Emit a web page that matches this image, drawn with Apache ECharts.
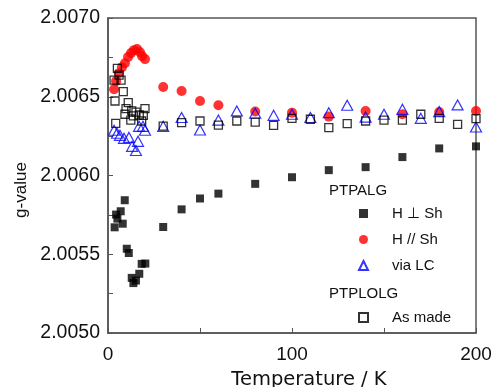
<!DOCTYPE html>
<html>
<head>
<meta charset="utf-8">
<script src="https://cdn.jsdelivr.net/npm/echarts@6/dist/echarts.min.js"></script>
<style>html,body{margin:0;padding:0;background:#fff}#c{width:494px;height:387px}</style>
</head>
<body>
<div id="c"></div>
<script>
// H ⊥ Sh (PTPALG)
const perpT = [3.6,4.4,5.1,6.9,8.0,9.1,10.2,11.3,12.9,13.8,15.2,17.0,18.3,20.3,30,40,50,60,80,100,120,140,160,180,200];
const perpG = [2.005671,2.005752,2.005726,2.005773,2.005694,2.005843,2.005535,2.005508,2.005350,2.005317,2.005333,2.005376,2.005439,2.005441,2.005673,2.005785,2.005854,2.005885,2.005947,2.005989,2.006034,2.006053,2.006117,2.006172,2.006185];
// H // Sh (PTPALG)
const parT = [3.3,4.4,6.0,7.6,9.2,10.9,12.5,14.1,15.8,17.4,18.5,20.1,30,40,50,60,80,100,120,140,160,180,200];
const parG = [2.006548,2.006599,2.006650,2.006688,2.006713,2.006752,2.006777,2.006796,2.006803,2.006783,2.006758,2.006739,2.006562,2.006537,2.006473,2.006446,2.006406,2.006399,2.006374,2.006410,2.006389,2.006403,2.006410];
// via LC (PTPALG)
const lcT = [3.3,4.9,6.5,8.7,11.4,13.1,15.2,16.3,16.9,19.0,20.1,30,40,50,60,70,80,90,100,110,120,130,140,150,160,170,180,190,200];
const lcG = [2.006287,2.006268,2.006255,2.006236,2.006242,2.006185,2.006159,2.006217,2.006312,2.006312,2.006287,2.006312,2.006368,2.006289,2.006352,2.006410,2.006395,2.006382,2.006389,2.006368,2.006399,2.006446,2.006371,2.006389,2.006420,2.006363,2.006406,2.006448,2.006308];
// As made (PTPLOLG)
const madeT = [3.3,5.1,6.0,7.1,8.3,3.8,4.2,11.0,9.8,9.2,12.4,12.9,15.2,13.8,17.0,18.3,20.1,19.2,30,40,50,60,70,80,90,100,110,120,130,140,150,160,170,180,190,200];
const madeG = [2.006605,2.006680,2.006637,2.006605,2.006533,2.006473,2.006331,2.006463,2.006425,2.006389,2.006352,2.006410,2.006403,2.006378,2.006384,2.006346,2.006425,2.006382,2.006314,2.006336,2.006346,2.006320,2.006346,2.006339,2.006318,2.006363,2.006357,2.006304,2.006329,2.006346,2.006352,2.006352,2.006389,2.006363,2.006325,2.006361];

const seriesNames = ['H ⊥ Sh', 'H // Sh', 'via LC', 'As made'];
const groupNames = ['PTPALG', 'PTPLOLG'];
const xTitle = 'Temperature / K';
const yTitle = 'g-value';

const zip = (a, b) => a.map((v, i) => [v, b[i]]);
const font = 'Liberation Sans, Arial, sans-serif';
const axisColor = '#555';

const legendCommon = {
  orient: 'vertical', left: 353, itemWidth: 9, itemHeight: 9, itemGap: 9, selectedMode: false,
  textStyle: { fontFamily: font, fontSize: 15, color: '#111', lineHeight: 17, padding: [0, 0, 0, 19] }
};

const chart = echarts.init(document.getElementById('c'));
chart.setOption({
  animation: false,
  backgroundColor: '#fff',
  grid: { left: 108, right: 18, top: 18, bottom: 54, outerBoundsMode: 'none', containLabel: false,
    show: true, borderColor: axisColor, borderWidth: 1.5, backgroundColor: 'transparent' },
  xAxis: {
    type: 'value', min: 0, max: 200, interval: 100,
    name: xTitle, nameLocation: 'middle', nameGap: 37,
    nameTextStyle: { fontFamily: 'DejaVu Sans, sans-serif', fontSize: 19.5, color: '#111', padding: [0, 0, 0, 34] },
    axisLine: { show: true, lineStyle: { color: axisColor, width: 1.5 } },
    axisTick: { show: true, inside: true, length: 5, lineStyle: { color: axisColor } },
    minorTick: { show: true, splitNumber: 2, length: 5, lineStyle: { color: axisColor } },
    splitLine: { show: false },
    axisLabel: { fontFamily: font, fontSize: 19, color: '#111', margin: 12 }
  },
  yAxis: {
    type: 'value', min: 2.005, max: 2.007, interval: 0.0005,
    name: yTitle, nameLocation: 'middle', nameGap: 78,
    nameTextStyle: { fontFamily: font, fontSize: 17, color: '#111', padding: [0, 29, 0, 0] },
    axisLine: { show: true, lineStyle: { color: axisColor, width: 1.5 } },
    axisTick: { show: true, inside: true, length: 5, lineStyle: { color: axisColor } },
    minorTick: { show: true, splitNumber: 2, length: 5, lineStyle: { color: axisColor } },
    splitLine: { show: false },
    axisLabel: { fontFamily: font, fontSize: 19.5, color: '#111', margin: 8, formatter: v => v.toFixed(4) }
  },
  legend: [
    Object.assign({ data: seriesNames.slice(0, 3), top: 200 }, legendCommon),
    Object.assign({ data: seriesNames.slice(3), top: 304 }, legendCommon)
  ],
  graphic: [
    { type: 'text', left: 329, top: 183, style: { text: groupNames[0], font: '15px ' + font, fill: '#111' } },
    { type: 'text', left: 329, top: 286, style: { text: groupNames[1], font: '15px ' + font, fill: '#111' } }
  ],
  series: [
    { name: seriesNames[0], type: 'scatter', symbol: 'rect', symbolSize: 8, data: zip(perpT, perpG),
      itemStyle: { color: '#000' } },
    { name: seriesNames[1], type: 'scatter', symbol: 'circle', symbolSize: 10, data: zip(parT, parG),
      itemStyle: { color: '#ff0000' } },
    { name: seriesNames[2], type: 'scatter', symbol: 'triangle', symbolSize: [11, 10], data: zip(lcT, lcG),
      itemStyle: { color: 'rgba(255,255,255,0)', borderColor: '#0000ff', borderWidth: 1.2 } },
    { name: seriesNames[3], type: 'scatter', symbol: 'rect', symbolSize: 8, data: zip(madeT, madeG),
      itemStyle: { color: 'rgba(255,255,255,0)', borderColor: '#000', borderWidth: 1.3 } }
  ]
});
</script>
</body>
</html>
